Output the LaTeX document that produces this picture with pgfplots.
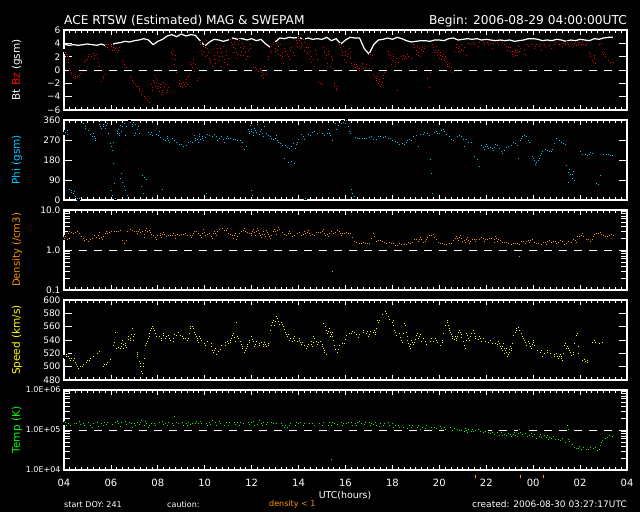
\documentclass[border=0pt]{standalone}
\usepackage{pgfplots}
\pgfplotsset{compat=1.18}
\usepackage{fontspec}
\setmainfont{DejaVu Sans}
\definecolor{bzred}{RGB}{255,0,0}
\definecolor{phicyan}{RGB}{0,200,255}
\definecolor{denorange}{RGB}{255,150,0}
\definecolor{spdyellow}{RGB}{255,255,0}
\definecolor{tmpgreen}{RGB}{0,255,0}
\pgfplotsset{
  panel/.style={
    scale only axis, width=563pt, height=80pt, xmin=0, xmax=24,
    anchor=south west,
    axis line style={white, line width=1.2pt},
    xtick={0,2,...,24}, minor x tick num=7, xticklabels={},
    xtick pos=both, ytick pos=both, yticklabel pos=left, xticklabel pos=lower,
    tick align=inside,
    tick style={white, line width=0.8pt},
    major tick length=8pt, minor tick length=6pt,
    xtick style={/pgfplots/major tick length=5pt, /pgfplots/minor tick length=3pt},
    yticklabel style={font=\fontsize{9}{9}\selectfont, text=white},
    xticklabel style={font=\fontsize{10}{10}\selectfont, text=white, yshift=-6pt},
  },
  dots/.style={only marks, mark=square*, mark size=1.0pt, mark options={draw=none, fill=#1}},
  refline/.style={white, line width=0.9pt, dash pattern=on 8pt off 7pt, mark=none, forget plot},
}
\begin{document}
\begin{tikzpicture}
\fill[black] (0,0) rectangle (640pt,512pt);

% ---------------- Panel 1: Bt / Bz ----------------
\begin{axis}[panel, at={(64pt,402pt)}, ymin=-6, ymax=6, ytick={-6,-4,...,6},
  yticklabels={−6,−4,−2,0,2,4,6}]
\addplot[refline] coordinates {(0,0) (24,0)};
\addplot[white, line width=1.2pt, mark=none] coordinates {
(0.0,3.9)(0.2,3.7)(0.4,3.8)(0.6,3.7)(0.8,3.8)(1.0,3.9)(1.2,3.8)(1.4,3.7)(1.6,3.9)(1.8,3.6)
(2.0,3.8)(2.2,4.0)(2.4,4.1)(2.6,4.3)(2.8,4.2)(3.0,4.4)(3.2,4.5)(3.4,4.7)(3.6,4.5)(3.8,3.8)
(4.0,4.3)(4.2,4.6)(4.4,5.1)(4.6,5.3)(4.8,5.0)(5.0,5.4)(5.2,5.1)(5.4,5.3)(5.6,5.2)(5.8,4.4)
(6.0,3.6)(6.2,4.2)(6.4,4.6)(6.6,4.5)(6.8,4.3)(7.0,4.5)(7.2,4.8)(7.4,4.6)(7.6,4.7)(7.8,4.5)
(8.0,4.7)(8.2,4.4)(8.4,4.6)(8.6,3.9)(8.8,3.4)(9.0,4.2)(9.2,4.8)(9.4,4.7)(9.6,4.9)(9.8,4.8)
(10.0,4.9)(10.2,4.6)(10.4,4.8)(10.6,4.6)(10.8,4.7)(11.0,4.6)(11.2,4.9)(11.4,4.4)(11.6,4.7)(11.8,3.9)
(12.0,4.5)(12.2,4.9)(12.4,4.8)(12.6,4.8)(12.8,3.2)(13.0,2.4)(13.2,3.8)(13.4,4.5)(13.6,4.6)(13.8,4.8)
(14.0,4.6)(14.2,4.9)(14.4,4.7)(14.6,4.4)(14.8,4.2)(15.0,4.3)(15.2,4.4)(15.4,4.4)(15.6,4.3)(15.8,4.5)
(16.0,4.5)(16.2,4.4)(16.4,4.7)(16.6,4.8)(16.8,4.5)(17.0,4.6)(17.2,4.7)(17.4,4.6)(17.6,4.7)(17.8,4.5)
(18.0,4.6)(18.2,4.5)(18.4,4.4)(18.6,4.5)(18.8,4.4)(19.0,4.5)(19.2,4.3)(19.4,4.4)(19.6,4.5)(19.8,4.7)
(20.0,4.7)(20.2,4.6)(20.4,4.4)(20.6,4.5)(20.8,4.4)(21.0,4.6)(21.2,4.5)(21.4,4.3)(21.6,4.5)(21.8,4.4)
(22.0,4.6)(22.2,4.5)(22.4,4.4)(22.6,4.7)(22.8,4.6)(23.0,4.8)(23.2,4.9)(23.4,4.9)};
\addplot[dots=bzred] coordinates {
(0.02,3.0)(0.06,2.8)(0.12,2.0)(0.18,1.2)(0.22,0.3)(0.26,-0.1)(0.30,-0.4)(0.34,-0.7)(0.38,-0.9)(0.42,-1.2)(0.46,-1.0)(0.50,-1.4)(0.55,-1.1)(0.60,-0.7)(0.65,-0.8)(0.70,-0.5)
(0.85,1.0)(0.90,1.4)(0.95,1.8)(1.00,2.1)(1.05,2.0)(1.10,2.3)(1.15,2.1)(1.20,1.9)(1.25,2.5)(1.30,2.2)(1.35,1.6)(1.40,1.8)(1.45,1.2)(1.50,0.6)
(1.58,-1.8)(1.62,-1.5)(1.66,-1.2)(1.70,-0.9)(1.74,-0.6)
(1.82,3.8)(1.86,3.5)(1.90,3.9)(1.95,3.2)(2.00,3.6)(2.05,3.0)(2.10,3.4)(2.15,2.8)(2.20,3.2)(2.25,2.6)(2.35,3.4)
(2.45,1.6)(2.52,1.2)(2.58,0.8)(2.64,0.4)
(2.80,-0.8)(2.86,-1.2)(2.92,-1.6)(2.98,-2.0)(3.04,-2.2)(3.10,-2.6)(3.16,-2.4)(3.22,-3.0)(3.28,-3.4)(3.34,-3.2)(3.40,-3.8)(3.46,-4.2)(3.52,-4.5)(3.58,-4.8)(3.62,-5.0)(3.66,-4.7)
(3.72,-2.2)(3.76,-3.0)(3.80,-1.6)(3.84,-0.8)(3.88,-2.4)(3.92,-1.2)(3.96,-2.8)(4.00,-2.0)(4.05,-3.2)(4.10,-2.6)(4.15,-3.6)(4.20,-3.0)(4.25,-1.8)(4.30,-2.2)(4.35,-3.4)(4.40,-2.9)(4.45,-2.6)
(4.55,2.6)(4.60,1.8)(4.65,3.0)(4.70,0.8)(4.75,2.2)(4.80,-0.4)
(4.90,-1.6)(4.95,-2.4)(5.00,-2.0)(5.05,-2.8)(5.10,-1.8)(5.15,-2.5)(5.20,-1.4)(5.25,-2.2)(5.30,-1.0)(5.35,-0.6)
(5.40,1.2)(5.45,0.4)(5.50,1.6)(5.55,-0.2)(5.60,0.8)(5.68,-1.6)(5.72,-1.2)
(5.80,4.2)(5.85,3.0)(5.90,2.4)(5.95,3.6)(6.00,2.0)(6.05,4.4)(6.10,3.2)(6.15,2.6)(6.20,1.8)(6.25,1.2)(6.30,0.6)
(6.40,2.2)(6.45,1.0)(6.50,3.8)(6.55,2.6)(6.60,1.4)(6.65,3.2)(6.70,0.6)(6.75,2.0)(6.80,3.6)(6.85,1.6)(6.90,2.8)(6.95,0.8)(7.00,1.8)
(7.10,4.6)(7.15,3.8)(7.20,2.6)(7.25,4.2)(7.30,3.2)(7.35,1.8)(7.40,2.4)(7.45,4.4)(7.50,3.4)(7.55,2.8)(7.60,4.0)(7.65,2.2)(7.70,3.6)(7.75,1.6)(7.80,2.8)(7.85,3.0)(7.90,2.0)(7.95,3.2)
(8.05,0.6)(8.10,0.2)(8.15,0.4)(8.20,-0.2)(8.25,0.0)(8.30,-0.4)(8.35,0.3)(8.40,-0.8)(8.45,-0.3)(8.50,-1.2)(8.55,0.5)(8.60,-0.6)
(8.70,1.6)(8.75,2.2)(8.80,3.0)(8.85,3.6)(8.90,4.2)(8.95,3.4)(9.00,2.8)(9.05,4.0)(9.10,3.0)(9.15,2.4)(9.20,3.8)(9.25,1.8)(9.30,2.6)(9.35,1.0)(9.40,3.2)(9.50,2.4)(9.60,1.6)(9.70,3.4)(9.80,2.2)
(9.90,4.4)(9.95,3.6)(10.00,4.8)(10.05,3.2)(10.10,4.2)(10.15,3.8)(10.20,4.6)(10.25,3.0)(10.30,4.0)(10.35,2.6)(10.40,3.4)(10.45,1.8)(10.50,2.8)(10.55,1.2)(10.60,2.2)(10.65,0.6)(10.70,3.0)(10.80,1.6)(10.85,-1.8)
(10.92,-2.0)(10.96,-2.3)(11.00,-2.1)(11.05,3.4)(11.10,2.6)(11.15,1.8)(11.20,1.0)(11.25,2.4)(11.30,3.0)(11.35,0.6)(11.40,2.0)(11.45,1.4)
(11.50,-2.0)(11.55,-2.6)(11.60,-3.0)(11.65,-2.4)
(11.75,3.8)(11.80,3.0)(11.85,2.2)(11.90,3.6)(11.95,1.6)(12.00,2.8)(12.05,1.2)(12.10,2.4)(12.15,3.2)(12.20,1.8)(12.25,1.0)
(12.35,1.2)(12.40,0.4)(12.45,0.8)(12.50,0.2)(12.55,0.6)(12.60,0.0)(12.65,0.4)(12.70,1.0)(12.75,0.2)(12.80,0.5)(12.90,0.8)(13.00,0.2)
(13.05,2.4)(13.10,1.8)(13.15,2.2)
(13.20,-0.6)(13.25,-1.2)(13.30,-1.6)(13.35,-1.0)(13.40,-2.0)(13.45,-1.4)(13.50,-2.4)(13.55,-1.8)(13.60,-0.8)(13.65,-0.4)(13.70,0.2)
(13.80,2.8)(13.85,1.6)(13.90,2.2)(13.95,0.8)(14.00,1.4)(14.05,2.4)(14.10,0.6)(14.15,1.8)(14.20,-3.0)(14.25,1.2)
(14.35,2.2)(14.40,1.6)(14.45,2.4)(14.50,1.8)(14.55,2.0)(14.60,1.6)(14.65,2.4)(14.70,2.2)(14.80,1.8)
(14.90,3.8)(14.95,3.0)(15.00,2.4)(15.05,3.6)(15.10,2.6)(15.15,3.2)(15.20,2.0)(15.25,3.4)(15.30,2.8)(15.40,3.6)
(15.45,0.4)(15.50,-1.2)(15.55,-2.6)(15.60,-0.4)
(15.70,3.8)(15.75,3.2)(15.80,2.6)(15.85,3.6)(15.90,2.2)(15.95,3.0)(16.00,1.8)(16.05,2.6)(16.10,1.6)(16.15,2.4)(16.20,1.4)(16.25,2.0)
(16.30,1.2)(16.35,0.6)(16.40,1.0)(16.45,0.0)(16.50,0.4)(16.55,-0.4)
(16.60,3.0)(16.65,2.6)(16.70,3.4)(16.75,4.0)(16.80,2.8)(16.85,3.6)(16.90,2.6)(16.95,3.8)(17.00,3.0)(17.10,3.6)(17.15,2.2)
(17.25,4.0)(17.35,3.8)(17.45,4.2)(17.55,4.0)(17.65,3.6)(17.75,4.0)(17.85,4.1)(17.95,3.8)(18.05,4.2)(18.15,4.0)(18.25,3.2)(18.35,3.9)(18.45,4.1)(18.55,3.7)(18.65,4.0)(18.75,3.9)(18.85,3.6)
(18.95,3.4)(19.00,2.8)(19.05,3.2)(19.10,2.4)(19.15,2.0)(19.20,2.6)(19.25,3.0)(19.30,2.2)(19.35,3.6)(19.40,2.8)(19.50,3.4)(19.60,3.0)(19.65,2.4)
(19.75,3.8)(19.85,3.4)(19.95,4.0)(20.05,3.2)(20.15,3.8)(20.25,3.6)(20.35,3.0)(20.45,3.8)(20.55,3.4)(20.65,3.9)(20.75,3.2)(20.85,3.8)
(20.95,4.1)(21.05,3.7)(21.15,4.0)(21.25,3.6)(21.35,3.9)(21.45,4.1)(21.55,3.5)(21.65,3.8)(21.75,4.0)(21.85,3.7)(21.95,4.2)(22.05,3.9)(22.15,3.8)(22.25,4.0)
(22.40,2.6)(22.45,2.0)(22.50,1.6)(22.55,1.2)(22.60,2.2)(22.65,1.0)
(22.80,3.8)(22.90,4.0)(22.95,2.6)(23.00,2.2)(23.05,2.4)(23.10,1.8)(23.15,1.6)(23.20,1.4)(23.25,1.0)(23.30,1.2)(23.35,1.0)(23.40,1.1)};
\addplot[dots=bzred] coordinates {
(0.04,2.6)(0.10,2.3)(0.16,1.6)(0.32,-0.6)(0.40,-1.1)(0.48,-1.3)(0.58,-0.9)(0.88,1.2)(0.98,1.6)(1.08,2.4)(1.18,2.0)(1.28,1.8)(1.38,2.3)(1.60,-1.7)(1.68,-1.0)(1.84,3.4)(1.92,3.1)(2.02,3.8)(2.12,2.9)(2.30,3.0)(2.48,1.4)(2.84,-1.0)(2.95,-1.8)(3.07,-2.4)(3.19,-2.8)(3.31,-3.6)(3.43,-4.0)(3.55,-4.6)(3.64,-4.9)(3.74,-2.6)(3.86,-1.8)(3.98,-2.4)(4.08,-2.2)(4.18,-3.3)(4.28,-2.5)(4.38,-3.1)(4.62,2.4)(4.72,1.6)(4.92,-2.0)(5.02,-2.6)(5.12,-2.2)(5.22,-1.8)(5.42,0.8)(5.52,1.0)(5.82,3.8)(5.92,2.8)(6.02,3.4)(6.12,2.2)(6.22,1.5)(6.42,1.6)(6.52,3.2)(6.62,2.0)(6.72,2.6)(6.82,1.2)(6.92,2.2)(7.12,4.2)(7.22,3.4)(7.32,2.6)(7.42,3.8)(7.52,2.2)(7.62,3.2)(7.72,2.6)(7.82,2.0)(7.92,3.8)(8.08,0.4)(8.18,0.1)(8.28,-0.2)(8.38,0.0)(8.48,-0.6)(8.72,2.0)(8.82,2.6)(8.92,3.8)(9.02,3.2)(9.12,3.6)(9.22,2.2)(9.32,2.0)(9.45,2.8)(9.55,2.0)(9.65,3.0)(9.75,2.6)(9.92,4.0)(10.02,4.4)(10.12,3.6)(10.22,4.2)(10.32,3.4)(10.42,2.4)(10.52,2.0)(10.62,1.6)(10.75,2.4)
(11.08,3.0)(11.18,2.2)(11.28,2.8)(11.42,1.8)(11.52,-2.4)(11.62,-2.8)(11.78,3.4)(11.88,2.6)(11.98,2.2)(12.08,2.0)(12.18,2.6)(12.38,0.8)(12.48,0.5)(12.58,0.2)(12.68,0.6)(12.85,0.4)(13.22,-0.9)(13.32,-1.3)(13.42,-1.7)(13.52,-2.1)(13.62,-1.2)(13.82,2.4)(13.92,1.8)(14.02,2.0)(14.12,1.2)(14.38,2.0)(14.48,2.2)(14.58,1.8)(14.68,2.0)(14.92,3.4)(15.02,3.0)(15.12,2.2)(15.22,3.0)(15.35,3.2)(15.72,3.4)(15.82,3.0)(15.92,2.6)(16.02,2.2)(16.12,2.0)(16.22,1.8)(16.32,0.8)(16.42,0.6)(16.62,2.8)(16.72,3.8)(16.82,3.2)(16.92,3.0)(17.05,3.4)(17.30,3.9)(17.50,3.8)(17.70,4.1)(17.90,3.9)(18.10,3.8)(18.30,4.0)(18.50,3.9)(18.70,4.1)(18.90,3.0)(19.02,3.4)(19.12,2.8)(19.22,2.2)(19.32,2.6)(19.45,3.2)(19.80,3.6)(19.90,3.9)(20.10,3.6)(20.30,3.9)(20.50,3.6)(20.70,3.7)(20.90,3.9)(21.10,3.8)(21.30,4.0)(21.50,3.9)(21.70,3.6)(21.90,3.9)(22.10,4.1)(22.20,3.7)(22.42,2.3)(22.52,1.4)(22.62,1.8)(22.98,2.4)(23.08,2.0)(23.18,1.5)(23.28,1.1)};
\end{axis}

% ---------------- Panel 2: Phi ----------------
\begin{axis}[panel, at={(64pt,312pt)}, ymin=0, ymax=360, ytick={0,90,180,270,360},
  yticklabels={0,90,180,270,360}]
\addplot[dots=phicyan] coordinates {
(0.02,300)(0.06,310)(0.10,305)(0.14,315)(0.18,298)
(0.22,45)(0.26,55)(0.30,35)(0.34,50)(0.38,25)(0.42,40)(0.46,20)(0.50,15)(0.55,10)(0.60,5)(0.65,8)
(0.80,350)(0.85,340)(0.90,330)(0.95,322)(1.00,315)(1.05,310)(1.10,302)(1.15,296)(1.20,292)(1.25,300)(1.30,285)(1.35,270)
(1.45,345)(1.50,335)(1.55,330)(1.60,320)(1.65,340)(1.70,318)(1.75,325)(1.85,345)(1.90,300)
(1.98,255)(2.02,240)(2.06,225)(2.10,260)(2.00,45)(2.05,20)(2.10,165)(2.15,75)(2.20,10)
(2.25,300)(2.30,320)(2.35,290)(2.40,335)(2.45,310)(2.55,345)(2.60,290)(2.65,330)
(2.40,100)(2.45,120)(2.50,80)(2.55,60)(2.60,45)(2.70,20)
(2.80,355)(2.85,345)(2.90,330)(2.95,350)(3.00,290)(3.05,340)(3.10,320)(3.20,300)
(3.35,112)(3.40,105)(3.45,100)(3.50,95)(3.30,60)(3.38,30)
(3.55,310)(3.60,300)(3.65,290)(3.70,305)(3.75,295)(3.80,285)(3.90,300)(4.00,290)(4.05,310)
(4.10,285)(4.15,280)(4.20,275)(4.25,270)(4.30,265)(4.35,275)(4.40,285)(4.45,270)(4.50,262)(4.20,50)(4.55,280)
(4.65,275)(4.75,265)(4.85,250)(4.95,255)(5.05,245)(5.15,240)(5.25,255)(5.35,270)(5.45,260)
(5.55,290)(5.60,270)(5.65,280)(5.70,262)(5.75,295)(5.80,275)(5.90,285)(5.95,268)(6.05,290)(6.07,30)
(6.15,300)(6.25,285)(6.35,295)(6.45,300)(6.55,270)(6.65,290)(6.75,285)(6.85,260)
(6.95,285)(7.05,275)(7.15,280)(7.25,270)(7.35,278)(7.45,265)(7.55,272)(7.65,255)(7.75,240)(7.70,230)
(7.85,320)(7.90,300)(7.95,335)(8.00,310)(8.05,290)(8.10,325)(8.20,305)(8.25,340)(8.30,295)(8.40,318)(8.50,285)(8.55,330)(8.00,45)(8.02,20)
(8.65,295)(8.75,285)(8.85,280)(8.95,270)(9.05,290)(9.15,260)
(9.25,250)(9.35,240)(9.45,245)(9.55,230)(9.65,235)(9.75,255)(9.85,235)(9.95,260)(9.40,190)(9.55,170)(9.70,175)(9.80,165)
(10.05,290)(10.15,300)(10.25,275)(10.35,290)(10.45,285)(10.55,300)(10.65,310)(10.75,295)(10.85,305)(10.30,10)
(10.95,305)(11.05,300)(11.15,285)(11.25,318)(11.30,300)(11.40,285)(11.45,270)(11.55,345)(11.65,340)(11.60,320)
(11.75,330)(11.85,355)(11.95,340)(12.05,358)(12.15,310)(12.22,300)(12.25,50)(12.30,30)(12.35,15)
(12.45,285)(12.55,278)(12.65,276)(12.75,280)(12.85,275)(12.95,278)(13.05,285)(13.15,288)
(13.25,270)(13.35,278)(13.45,290)(13.55,285)(13.65,280)(13.75,288)(13.85,272)(13.95,280)
(14.05,265)(14.15,262)(14.25,255)(14.35,250)(14.45,260)(14.55,248)
(14.65,270)(14.75,275)(14.85,265)(14.95,295)(15.05,285)(15.15,300)(15.25,290)(15.35,305)(15.10,240)
(15.60,185)(15.65,120)(15.70,30)(15.50,300)(15.55,290)
(15.75,300)(15.85,310)(15.95,295)(16.05,305)(16.15,318)(16.25,305)(16.35,290)
(16.45,280)(16.55,265)(16.60,270)
(16.70,285)(16.80,290)(16.90,295)(17.00,275)(17.10,280)(17.20,265)(17.30,255)(17.40,260)(17.05,240)
(17.50,195)(17.60,185)(17.70,150)
(17.80,245)(17.90,230)(18.00,250)(18.10,235)(18.20,240)(18.30,225)(18.40,250)(18.50,240)(18.60,230)
(18.70,210)(18.80,230)(18.90,245)(19.00,240)(19.10,255)(19.20,260)(19.30,248)(19.35,190)
(19.45,270)(19.55,285)(19.65,295)(19.75,275)(19.85,260)
(19.95,195)(20.05,180)(20.10,160)(20.15,170)(20.25,190)
(20.35,210)(20.45,225)(20.55,230)(20.65,215)(20.75,220)(20.85,235)
(20.95,280)(21.05,275)(21.15,265)(21.25,260)(21.35,250)
(21.40,155)(21.45,130)(21.50,120)(21.55,140)(21.60,110)(21.65,100)(21.70,130)(21.75,90)(21.50,80)
(21.95,225)(22.05,215)(22.15,200)(22.25,210)(22.35,195)(22.45,215)(22.55,205)
(22.65,80)(22.70,70)(22.75,65)(22.80,75)(22.85,110)
(22.95,210)(23.05,205)(23.15,208)(23.25,200)(23.35,202)};
\addplot[dots=phicyan] coordinates {
(0.04,305)(0.12,298)(0.24,50)(0.32,42)(0.40,30)(0.48,18)(0.58,8)(0.82,345)(0.92,325)(1.02,312)(1.12,298)(1.22,288)(1.32,280)(1.48,340)(1.58,325)(1.68,330)(1.80,335)(2.27,310)(2.37,300)(2.50,330)(2.82,350)(2.92,340)(3.02,300)(3.15,330)(3.42,102)(3.58,305)(3.68,298)(3.78,290)(3.95,295)(4.12,282)(4.22,272)(4.32,270)(4.42,278)(4.60,278)(4.70,270)(4.80,258)(4.90,250)(5.00,250)(5.10,242)(5.20,248)(5.30,262)(5.40,265)(5.58,280)(5.68,272)(5.78,285)(5.88,278)(6.00,282)(6.10,295)(6.20,290)(6.30,288)(6.40,298)(6.50,285)(6.60,280)(6.70,288)(6.80,275)(6.90,280)(7.00,278)(7.10,276)(7.20,275)(7.30,272)(7.40,270)(7.50,268)(7.60,262)(7.88,310)(7.98,320)(8.08,305)(8.15,315)(8.35,310)(8.45,300)(8.60,300)(8.70,290)(8.80,285)(8.90,275)(9.00,280)(9.10,270)(9.20,255)(9.30,245)(9.50,238)(9.60,232)(9.70,240)(9.90,250)(10.00,275)(10.10,295)(10.20,288)(10.40,295)(10.50,290)(10.60,305)(10.80,300)
(11.00,302)(11.10,292)(11.20,300)(11.35,290)(11.70,335)(11.80,345)(11.90,350)(12.00,345)(12.10,330)(12.40,282)(12.50,280)(12.60,277)(12.70,278)(12.80,276)(12.90,277)(13.00,282)(13.10,286)(13.20,275)(13.30,272)(13.40,285)(13.50,288)(13.60,282)(13.70,285)(13.80,276)(13.90,278)(14.00,270)(14.10,264)(14.20,258)(14.30,252)(14.40,255)(14.50,252)(14.60,262)(14.70,272)(14.80,270)(14.90,285)(15.00,290)(15.20,295)(15.30,298)(15.80,305)(15.90,300)(16.00,302)(16.10,312)(16.20,310)(16.30,298)(16.40,285)(16.50,272)(16.75,288)(16.85,292)(16.95,285)(17.15,272)(17.25,262)(17.35,258)(17.85,238)(17.95,240)(18.05,242)(18.15,238)(18.25,232)(18.35,238)(18.45,245)(18.55,235)(18.65,220)(18.75,222)(18.85,238)(18.95,242)(19.05,248)(19.15,258)(19.25,255)(19.50,278)(19.60,290)(19.70,285)(19.80,268)(20.00,188)(20.20,180)(20.30,200)(20.40,218)(20.50,228)(20.60,222)(20.70,218)(20.80,228)(20.90,255)(21.00,278)(21.10,270)(21.20,262)(21.30,255)(21.48,125)(21.58,118)(21.68,115)(22.00,220)(22.10,208)(22.20,205)(22.30,202)(22.40,205)(22.50,210)(22.68,75)(22.78,70)(23.00,208)(23.10,206)(23.20,204)(23.30,200)};
\end{axis}

% ---------------- Panel 3: Density ----------------
\begin{axis}[panel, at={(64pt,222pt)}, ymode=log, ymin=0.1, ymax=10, ytick={0.1,1,10},
  yticklabels={0.1,1.0,10.0}]
\addplot[refline] coordinates {(0,1) (24,1)};
\addplot[dots=denorange] coordinates {
(0.02,2.0)(0.08,2.1)(0.14,1.9)(0.20,2.7)(0.28,2.8)(0.36,2.6)(0.44,2.9)(0.52,2.7)(0.60,3.0)(0.68,2.3)(0.76,2.1)(0.84,1.9)(0.92,1.7)(1.00,2.0)(1.08,1.6)(1.16,1.8)(1.24,2.2)(1.32,2.5)(1.40,2.0)(1.48,2.8)(1.56,2.2)(1.64,1.9)(1.72,2.4)(1.80,2.9)(1.88,2.6)(1.96,3.1)(2.04,2.7)(2.12,3.0)(2.20,2.8)(2.28,3.2)(2.36,3.0)(2.44,2.9)(2.52,1.6)(2.58,1.5)(2.64,1.8)(2.72,3.3)(2.80,3.0)(2.88,3.6)(2.96,2.8)(3.04,3.2)(3.12,2.7)(3.20,3.4)(3.28,2.6)(3.36,3.1)(3.44,2.1)(3.52,3.6)(3.60,3.4)(3.68,2.8)(3.76,2.2)(3.84,2.5)(3.92,1.9)(4.00,2.2)(4.08,2.6)(4.16,2.1)(4.24,2.8)(4.32,2.3)(4.40,2.1)(4.48,2.4)(4.56,2.2)(4.64,2.6)(4.72,2.0)(4.80,2.3)(4.88,2.7)(4.96,2.3)(5.04,2.6)(5.12,2.4)(5.20,2.8)(5.28,2.2)(5.36,2.5)(5.44,2.1)(5.52,2.6)(5.60,3.2)(5.68,2.8)(5.76,2.4)(5.84,2.1)(5.92,3.4)(6.00,2.6)(6.08,2.2)(6.16,2.8)(6.24,2.5)(6.32,2.0)(6.40,2.9)(6.48,2.4)(6.56,3.5)(6.64,3.2)(6.72,3.8)(6.80,3.4)(6.88,2.9)(6.96,3.6)(7.04,2.3)(7.12,2.7)(7.20,2.0)(7.28,2.6)(7.36,1.9)(7.44,2.4)(7.52,3.0)(7.60,2.8)(7.68,3.5)(7.76,2.6)(7.84,3.0)(7.92,2.2)(8.00,2.7)(8.08,3.3)(8.16,2.4)(8.24,3.6)(8.32,2.6)(8.40,2.1)(8.48,2.9)(8.56,2.2)(8.64,3.1)(8.72,2.5)(8.80,2.0)(8.88,2.8)(8.96,3.3)(9.04,2.5)(9.12,3.7)(9.20,2.9)(9.28,3.2)(9.36,2.4)(9.44,2.7)(9.52,2.2)(9.60,3.0)(9.68,2.4)(9.76,2.1)(9.84,2.7)(9.92,2.3)(10.00,3.0)(10.08,2.6)(10.16,2.2)(10.24,2.9)(10.32,2.5)(10.40,3.1)(10.48,2.4)(10.56,2.8)(10.64,2.3)(10.72,2.6)(10.80,3.0)
(10.88,3.0)(10.96,2.6)(11.04,3.3)(11.12,2.4)(11.20,2.8)(11.28,2.2)(11.36,3.2)(11.44,2.7)(11.52,2.5)(11.60,3.0)(11.68,3.4)(11.76,2.6)(11.84,2.5)(11.92,2.8)(12.00,2.7)(12.08,2.9)(12.16,2.6)(12.24,2.8)
(12.32,1.7)(12.40,1.6)(12.48,1.5)(12.56,1.6)(12.64,1.45)(12.72,1.5)(12.80,1.6)(12.88,1.45)(12.96,1.5)(13.04,1.55)(13.12,2.6)(13.20,2.8)
(13.28,1.8)(13.36,1.6)(13.44,1.9)(13.52,1.7)(13.60,1.6)(13.68,1.5)(13.76,1.55)(13.84,1.8)(13.92,1.45)(14.00,1.6)(14.08,1.4)(14.16,1.3)(14.24,1.4)(14.32,1.5)(14.40,1.3)(14.48,1.45)(14.56,1.35)(14.64,1.5)(14.72,1.6)(14.80,1.4)
(14.88,1.7)(14.96,2.0)(15.04,1.8)(15.12,1.6)(15.20,2.1)(15.28,1.7)(15.36,1.5)(15.44,1.9)(15.52,2.4)(15.60,2.2)(15.68,2.6)(15.76,2.3)(15.84,2.0)(15.92,1.7)(16.00,1.55)(16.08,1.5)(16.16,1.4)(16.24,1.45)(16.32,1.35)(16.40,1.5)(16.48,1.4)(16.56,1.6)(16.64,1.9)(16.72,2.2)(16.80,1.8)(16.88,2.3)(16.96,1.7)(17.04,2.0)(17.12,1.6)(17.20,2.1)(17.28,1.5)(17.36,1.8)(17.44,2.0)(17.52,1.7)(17.60,2.1)(17.68,1.8)(17.76,1.9)(17.84,2.2)(17.92,1.7)(18.00,2.0)(18.08,1.8)(18.16,2.1)(18.24,1.9)(18.32,1.6)(18.40,2.2)(18.48,1.7)(18.56,2.0)(18.64,1.6)(18.72,1.5)(18.80,1.7)(18.88,1.4)(18.96,1.6)(19.04,1.3)(19.12,1.5)(19.20,1.4)(19.28,1.6)(19.36,1.3)(19.44,1.5)(19.52,1.8)(19.60,1.6)(19.68,1.4)(19.76,1.9)(19.84,1.6)(19.92,2.0)(20.00,1.7)(20.08,1.5)(20.16,1.4)(20.24,1.6)(20.32,1.3)(20.40,1.5)(20.48,1.7)(20.56,1.4)(20.64,1.9)(20.72,1.6)(20.80,1.5)(20.88,1.8)(20.96,1.6)(21.04,1.4)(21.12,1.7)(21.20,1.9)(21.28,1.5)(21.36,1.3)(21.44,1.6)(21.52,1.8)(21.60,1.5)(21.68,1.7)(21.76,2.0)(21.84,1.6)(21.92,2.4)(22.00,2.1)(22.08,2.6)(22.16,1.8)(22.24,1.7)(22.32,2.0)(22.40,1.8)(22.48,1.6)(22.56,2.2)(22.64,2.8)(22.72,2.6)(22.80,2.7)(22.88,2.9)(22.96,2.2)(23.04,2.4)(23.12,2.1)(23.20,2.3)(23.28,2.5)(23.36,2.4)
(11.42,0.29)(19.42,0.72)};
\addplot[dots=denorange] coordinates {
(0.05,2.2)(0.16,2.6)(0.24,2.9)(0.32,2.75)(0.40,2.7)(0.48,2.85)(0.56,2.9)(0.64,2.6)(0.72,2.2)(0.80,2.0)(0.88,1.8)(0.96,1.9)(1.04,1.7)(1.12,1.9)(1.20,2.0)(1.28,2.3)(1.36,2.1)(1.44,2.4)(1.52,2.0)(1.60,2.1)(1.68,2.2)(1.76,2.6)(1.84,2.7)(1.92,2.8)(2.00,2.9)(2.08,2.8)(2.16,2.9)(2.24,3.0)(2.32,2.9)(2.40,3.1)(2.48,1.8)(2.68,3.0)(2.76,3.2)(2.84,3.3)(2.92,3.1)(3.00,3.0)(3.08,2.9)(3.16,3.0)(3.24,2.8)(3.32,2.9)(3.40,2.5)(3.48,3.2)(3.56,3.0)(3.64,3.1)(3.72,2.5)(3.80,2.3)(3.88,2.1)(3.96,2.3)(4.04,2.4)(4.12,2.3)(4.20,2.5)(4.28,2.5)(4.36,2.2)(4.44,2.3)(4.52,2.3)(4.60,2.4)(4.68,2.2)(4.76,2.4)(4.84,2.5)(4.92,2.4)(5.00,2.5)(5.08,2.5)(5.16,2.6)(5.24,2.4)(5.32,2.3)(5.40,2.3)(5.48,2.4)(5.56,2.9)(5.64,3.0)(5.72,2.6)(5.80,2.3)(5.88,2.6)(5.96,2.8)(6.04,2.4)(6.12,2.5)(6.20,2.6)(6.28,2.2)(6.36,2.6)(6.44,2.6)(6.52,3.0)(6.60,3.3)(6.68,3.5)(6.76,3.6)(6.84,3.1)(6.92,3.2)(7.00,2.6)(7.08,2.5)(7.16,2.3)(7.24,2.3)(7.32,2.2)(7.40,2.2)(7.48,2.7)(7.56,2.9)(7.64,3.1)(7.72,3.0)(7.80,2.8)(7.88,2.6)(7.96,2.4)(8.04,3.0)(8.12,2.8)(8.20,3.0)(8.28,3.1)(8.36,2.3)(8.44,2.5)(8.52,2.5)(8.60,2.7)(8.68,2.8)(8.76,2.2)(8.84,2.4)(8.92,3.0)(9.00,2.9)(9.08,3.1)(9.16,3.3)(9.24,3.0)(9.32,2.8)(9.40,2.5)(9.48,2.4)(9.56,2.6)(9.64,2.7)(9.72,2.2)(9.80,2.4)(9.88,2.5)(9.96,2.7)(10.04,2.8)(10.12,2.4)(10.20,2.5)(10.28,2.7)(10.36,2.8)(10.44,2.7)(10.52,2.6)(10.60,2.5)(10.68,2.4)(10.76,2.8)(10.84,2.8)
(10.92,2.8)(11.00,3.0)(11.08,2.7)(11.16,2.6)(11.24,2.5)(11.32,2.7)(11.40,2.9)(11.48,2.6)(11.56,2.8)(11.64,3.2)(11.72,2.9)(11.80,2.4)(11.88,2.7)(11.96,2.6)(12.04,2.8)(12.12,2.7)(12.20,2.7)(12.28,2.1)(12.36,1.65)(12.44,1.55)(12.52,1.55)(12.60,1.5)(12.68,1.48)(12.76,1.55)(12.84,1.5)(12.92,1.48)(13.00,1.52)(13.08,2.0)(13.16,2.7)(13.24,2.2)(13.32,1.7)(13.40,1.75)(13.48,1.8)(13.56,1.65)(13.64,1.55)(13.72,1.52)(13.80,1.7)(13.88,1.6)(13.96,1.5)(14.04,1.5)(14.12,1.35)(14.20,1.35)(14.28,1.45)(14.36,1.4)(14.44,1.38)(14.52,1.4)(14.60,1.42)(14.68,1.55)(14.76,1.5)(14.84,1.55)(14.92,1.85)(15.00,1.9)(15.08,1.7)(15.16,1.85)(15.24,1.9)(15.32,1.6)(15.40,1.7)(15.48,2.1)(15.56,2.3)(15.64,2.4)(15.72,2.45)(15.80,2.15)(15.88,1.85)(15.96,1.6)(16.04,1.52)(16.12,1.45)(16.20,1.42)(16.28,1.4)(16.36,1.42)(16.44,1.45)(16.52,1.5)(16.60,1.75)(16.68,2.0)(16.76,2.0)(16.84,2.05)(16.92,2.0)(17.00,1.85)(17.08,1.8)(17.16,1.85)(17.24,1.8)(17.32,1.65)(17.40,1.9)(17.48,1.85)(17.56,1.9)(17.64,1.95)(17.72,1.85)(17.80,2.05)(17.88,1.95)(17.96,1.85)(18.04,1.9)(18.12,1.95)(18.20,2.0)(18.28,1.75)(18.36,1.9)(18.44,1.95)(18.52,1.85)(18.60,1.8)(18.68,1.55)(18.76,1.6)(18.84,1.55)(18.92,1.5)(19.00,1.45)(19.08,1.4)(19.16,1.45)(19.24,1.5)(19.32,1.45)(19.40,1.4)(19.48,1.65)(19.56,1.7)(19.64,1.5)(19.72,1.65)(19.80,1.75)(19.88,1.8)(19.96,1.85)(20.04,1.6)(20.12,1.45)(20.20,1.5)(20.28,1.45)(20.36,1.4)(20.44,1.6)(20.52,1.55)(20.60,1.65)(20.68,1.75)(20.76,1.55)(20.84,1.65)(20.92,1.7)(21.00,1.5)(21.08,1.55)(21.16,1.8)(21.24,1.7)(21.32,1.4)(21.40,1.45)(21.48,1.7)(21.56,1.65)(21.64,1.6)(21.72,1.85)(21.80,1.8)(21.88,2.2)(21.96,2.25)(22.04,2.35)(22.12,2.2)(22.20,1.75)(22.28,1.85)(22.36,1.9)(22.44,1.7)(22.52,1.9)(22.60,2.5)(22.68,2.7)(22.76,2.65)(22.84,2.8)(22.92,2.5)(23.00,2.3)(23.08,2.25)(23.16,2.2)(23.24,2.4)(23.32,2.45)(23.40,2.4)};
\end{axis}

% ---------------- Panel 4: Speed ----------------
\begin{axis}[panel, at={(64pt,132pt)}, ymin=480, ymax=600, ytick={480,500,...,600},
  yticklabels={480,500,520,540,560,580,600}]
\addplot[dots=spdyellow] coordinates {
(0.02,515)(0.08,518)(0.14,512)(0.20,516)(0.26,510)(0.32,514)(0.38,508)(0.44,512)(0.50,505)(0.56,500)(0.62,497)(0.68,502)(0.74,499)(0.80,503)(0.86,506)(0.92,504)(0.98,510)(1.04,508)(1.10,512)(1.16,515)(1.22,513)(1.28,518)(1.34,520)(1.40,517)(1.46,522)(1.52,525)(1.58,500)(1.64,497)(1.70,503)(1.76,505)(1.82,502)(1.88,508)(1.94,512)(2.00,510)
(2.06,530)(2.12,535)(2.18,538)(2.24,528)(2.30,532)(2.36,526)(2.42,530)(2.48,540)(2.54,527)(2.60,535)(2.66,529)(2.20,552)(2.72,545)(2.78,538)(2.84,542)(2.90,557)(2.96,540)(3.00,548)
(3.10,522)(3.14,515)(3.18,510)(3.24,505)(3.28,495)(3.32,490)(3.36,500)(3.40,512)
(3.46,530)(3.50,535)(3.56,540)(3.62,545)(3.68,555)(3.74,562)(3.80,558)(3.86,552)
(3.92,548)(3.98,545)(4.04,543)(4.10,547)(4.16,540)(4.22,550)(4.28,545)(4.34,542)(4.40,548)(4.46,546)(4.52,540)(4.58,544)(4.64,538)(4.70,548)(4.76,545)(4.82,550)(4.88,552)(4.94,546)(5.00,548)(5.06,542)(5.12,544)(5.18,540)(5.24,538)(5.30,543)
(5.36,558)(5.42,562)(5.48,560)(5.54,556)(5.60,548)(5.66,542)(5.72,537)(5.78,545)(5.84,540)(5.90,535)(5.96,538)(6.02,532)(6.08,540)(6.14,536)(6.20,530)(6.26,535)(6.32,525)(6.38,520)(6.44,528)(6.50,518)(6.56,524)(6.62,522)(6.68,530)(6.74,535)(6.80,538)(6.86,532)(6.92,540)(6.98,536)(7.04,534)(7.10,540)(7.16,545)(7.22,550)(7.28,538)(7.34,567)(7.40,546)(7.46,540)(7.52,536)(7.58,530)(7.64,526)(7.70,522)(7.76,528)(7.82,534)(7.88,540)(7.94,535)(8.00,545)(8.06,538)(8.12,530)(8.18,536)(8.24,540)(8.30,532)(8.36,538)(8.42,535)(8.48,531)(8.54,536)(8.60,533)(8.66,530)(8.72,535)
(8.80,560)(8.86,565)(8.92,570)(8.98,562)(9.04,575)(9.10,572)(9.16,565)(9.22,563)(9.28,566)(9.34,560)
(9.44,552)(9.50,545)(9.56,548)(9.62,540)(9.68,544)(9.74,538)(9.80,546)(9.86,535)(9.92,540)(9.98,537)(10.04,542)(10.10,532)(10.16,536)(10.22,530)(10.28,534)(10.34,528)(10.40,535)(10.46,532)(10.52,538)(10.58,530)(10.64,545)(10.70,540)(10.76,536)(10.82,532)
(10.90,540)(10.96,536)(11.02,530)(11.08,525)(11.14,520)(11.20,518)(11.05,565)(11.12,560)(11.18,555)(11.24,550)(11.30,557)(11.36,545)(11.42,552)(11.48,540)(11.54,525)(11.60,528)(11.66,522)(11.72,530)(11.78,535)(11.84,538)(11.90,533)(11.96,537)
(12.02,545)(12.08,550)(12.14,553)(12.20,548)(12.26,552)(12.32,555)(12.38,548)(12.44,546)(12.50,550)(12.56,544)(12.62,552)(12.68,548)(12.74,554)(12.80,550)(12.86,548)(12.92,553)(12.98,546)(13.04,552)(13.10,555)(13.16,550)(13.22,555)(13.28,548)
(13.36,570)(13.42,565)(13.48,575)(13.54,580)(13.60,577)(13.66,585)(13.72,582)(13.78,578)(13.84,575)(13.90,568)(13.96,565)(14.02,570)
(14.08,555)(14.14,550)(14.20,545)(14.26,552)(14.32,548)(14.38,540)(14.44,535)(14.50,565)(14.56,560)(14.62,545)(14.68,535)(14.74,528)(14.80,540)(14.86,532)(14.92,537)
(15.00,545)(15.06,550)(15.12,542)(15.18,548)(15.24,538)(15.30,544)(15.36,540)(15.42,536)(15.48,532)(15.54,538)(15.60,535)(15.66,542)(15.72,536)(15.78,540)(15.84,544)(15.90,537)(15.96,535)(16.02,530)(16.08,534)(16.14,540)
(16.20,560)(16.26,565)(16.32,570)(16.38,562)(16.44,555)(16.50,548)(16.56,542)(16.62,538)(16.68,545)(16.74,540)(16.80,552)(16.86,556)(16.92,548)(16.98,540)(17.04,536)(17.10,528)(17.16,550)(17.22,545)(17.28,540)(17.34,552)(17.40,548)(17.46,555)(17.52,545)(17.58,542)(17.64,538)(17.70,545)(17.76,540)(17.82,536)(17.88,542)(17.94,537)(18.00,540)(18.06,535)(18.12,538)(18.18,540)(18.24,534)(18.30,536)(18.36,538)(18.42,532)(18.48,536)(18.54,540)
(18.60,530)(18.66,525)(18.72,535)(18.78,520)(18.84,528)(18.90,515)(18.96,522)(19.02,530)(19.08,525)
(19.14,545)(19.20,550)(19.26,555)(19.32,560)(19.38,558)(19.44,552)(19.50,548)(19.56,545)(19.62,540)(19.68,535)(19.74,530)(19.80,538)(19.86,533)(19.92,528)(19.98,540)(20.04,532)
(20.10,525)(20.16,528)(20.22,522)(20.28,520)(20.34,525)(20.40,515)(20.46,522)(20.52,518)(20.58,525)(20.64,520)(20.70,523)(20.76,518)(20.82,520)(20.88,516)(20.94,522)(21.00,518)(21.06,513)(21.12,520)(21.18,516)(21.24,510)
(21.30,530)(21.36,535)(21.42,528)(21.48,532)(21.54,525)(21.60,520)(21.66,515)(21.72,522)
(21.80,545)(21.86,550)(21.90,530)
(21.96,510)(22.02,512)(22.08,508)(22.14,512)(22.20,510)(22.26,506)(22.32,509)
(22.50,538)(22.56,535)(22.62,540)(22.68,535)(22.74,532)(22.80,536)(22.86,534)(22.92,537)(22.98,535)};
\addplot[dots=spdyellow] coordinates {
(0.05,514)(0.11,516)(0.17,511)(0.23,513)(0.29,512)(0.35,510)(0.41,510)(0.47,507)(0.53,503)(0.59,498)(0.65,500)(0.71,500)(0.77,501)(0.83,504)(0.89,505)(0.95,507)(1.01,509)(1.07,510)(1.13,513)(1.19,514)(1.25,516)(1.31,519)(1.37,518)(1.43,520)(1.49,523)(1.61,499)(1.67,500)(1.73,504)(1.79,503)(1.85,506)(1.91,510)(1.97,511)(2.09,532)(2.15,536)(2.21,531)(2.27,530)(2.33,529)(2.39,528)(2.45,535)(2.51,533)(2.57,531)(2.63,532)(2.69,540)(2.75,541)(2.81,540)(2.87,548)(2.93,545)(3.12,518)(3.21,508)(3.26,500)(3.30,493)(3.38,505)(3.48,532)(3.53,538)(3.59,542)(3.65,550)(3.71,558)(3.77,560)(3.83,555)(3.89,550)(3.95,546)(4.01,544)(4.07,545)(4.13,543)(4.19,545)(4.25,547)(4.31,543)(4.37,545)(4.43,547)(4.49,543)(4.55,542)(4.61,541)(4.67,543)(4.73,546)(4.79,547)(4.85,551)(4.91,549)(4.97,547)(5.03,545)(5.09,543)(5.15,542)(5.21,539)(5.27,540)(5.33,550)(5.39,560)(5.45,561)(5.51,558)(5.57,552)(5.63,545)(5.69,540)(5.75,541)(5.81,542)(5.87,537)(5.93,536)(5.99,535)(6.05,536)(6.11,538)(6.17,533)(6.23,532)(6.29,530)(6.35,522)(6.41,524)(6.47,523)(6.53,521)(6.59,523)(6.65,526)(6.71,532)(6.77,536)(6.83,535)(6.89,536)(6.95,538)(7.01,535)(7.07,537)(7.13,542)(7.19,547)(7.25,544)(7.37,543)(7.43,543)(7.49,538)(7.55,533)(7.61,528)(7.67,524)(7.73,525)(7.79,531)(7.85,537)(7.91,537)(7.97,540)(8.03,541)(8.09,534)(8.15,533)(8.21,538)(8.27,536)(8.33,535)(8.39,536)(8.45,533)(8.51,533)(8.57,534)(8.63,531)(8.69,532)(8.77,555)(8.83,562)(8.89,567)(8.95,566)(9.01,568)(9.07,573)(9.13,568)(9.19,564)(9.25,564)(9.31,563)(9.38,556)(9.47,548)(9.53,546)(9.59,544)(9.65,542)(9.71,541)(9.77,542)(9.83,540)(9.89,537)(9.95,538)(10.01,540)(10.07,537)(10.13,534)(10.19,533)(10.25,532)(10.31,531)(10.37,531)(10.43,533)(10.49,535)(10.55,534)(10.61,537)(10.67,542)(10.73,538)(10.79,534)(10.85,536)
(10.93,538)(10.99,533)(11.05,528)(11.11,522)(11.17,519)(11.27,553)(11.33,551)(11.39,548)(11.45,546)(11.51,532)(11.57,526)(11.63,525)(11.69,526)(11.75,532)(11.81,536)(11.87,535)(11.93,535)(11.99,541)(12.05,547)(12.11,551)(12.17,550)(12.23,550)(12.29,553)(12.35,551)(12.41,547)(12.47,548)(12.53,547)(12.59,548)(12.65,550)(12.71,551)(12.77,552)(12.83,549)(12.89,550)(12.95,549)(13.01,549)(13.07,553)(13.13,552)(13.19,552)(13.25,551)(13.31,558)(13.39,567)(13.45,570)(13.51,577)(13.57,578)(13.63,581)(13.69,583)(13.75,580)(13.81,576)(13.87,571)(13.93,566)(13.99,567)(14.05,562)(14.11,552)(14.17,547)(14.23,548)(14.29,550)(14.35,544)(14.41,537)(14.47,550)(14.53,562)(14.59,552)(14.65,540)(14.71,531)(14.77,534)(14.83,536)(14.89,534)(14.95,541)(15.03,547)(15.09,546)(15.15,545)(15.21,543)(15.27,541)(15.33,542)(15.39,538)(15.45,534)(15.51,535)(15.57,536)(15.63,538)(15.69,539)(15.75,538)(15.81,542)(15.87,540)(15.93,536)(15.99,532)(16.05,532)(16.11,537)(16.17,550)(16.23,562)(16.29,567)(16.35,566)(16.41,558)(16.47,551)(16.53,545)(16.59,540)(16.65,541)(16.71,542)(16.77,546)(16.83,554)(16.89,552)(16.95,544)(17.01,538)(17.07,532)(17.13,539)(17.19,547)(17.25,542)(17.31,546)(17.37,550)(17.43,551)(17.49,550)(17.55,543)(17.61,540)(17.67,541)(17.73,542)(17.79,538)(17.85,539)(17.91,539)(17.97,538)(18.03,537)(18.09,536)(18.15,539)(18.21,537)(18.27,535)(18.33,537)(18.39,535)(18.45,534)(18.51,538)(18.57,535)(18.63,527)(18.69,530)(18.75,527)(18.81,524)(18.87,521)(18.93,518)(18.99,526)(19.05,527)(19.11,535)(19.17,547)(19.23,552)(19.29,557)(19.35,559)(19.41,555)(19.47,550)(19.53,546)(19.59,542)(19.65,537)(19.71,532)(19.77,534)(19.83,535)(19.89,530)(19.95,534)(20.01,536)(20.07,528)(20.13,526)(20.19,525)(20.25,521)(20.31,522)(20.37,520)(20.43,518)(20.49,520)(20.55,521)(20.61,522)(20.67,521)(20.73,520)(20.79,519)(20.85,518)(20.91,519)(20.97,520)(21.03,515)(21.09,516)(21.15,518)(21.21,513)(21.27,520)(21.33,532)(21.39,531)(21.45,530)(21.51,528)(21.57,522)(21.63,517)(21.69,518)(21.75,535)(21.83,547)(21.93,520)(21.99,511)(22.05,510)(22.11,510)(22.17,511)(22.23,508)(22.29,507)(22.53,536)(22.59,537)(22.65,537)(22.71,533)(22.77,534)(22.83,535)(22.89,535)(22.95,536)};
\end{axis}

% ---------------- Panel 5: Temp ----------------
\begin{axis}[panel, at={(64pt,42pt)}, ymode=log, ymin=1e4, ymax=1e6, ytick={1e4,1e5,1e6},
  yticklabels={1.0E+04,1.0E+05,1.0E+06},
  yticklabel style={font=\fontsize{8}{8}\selectfont},
  xticklabels={04,06,08,10,12,14,16,18,20,22,00,02,04}, clip=false]
\addplot[refline] coordinates {(0,1e5) (24,1e5)};
\addplot[dots=tmpgreen] coordinates {
(0.0,1.45e5)(0.1,1.35e5)(0.2,1.5e5)(0.3,1.4e5)(0.4,1.6e5)(0.5,1.45e5)(0.6,1.55e5)(0.7,1.4e5)(0.8,1.5e5)(0.9,1.35e5)(1.0,1.45e5)(1.1,1.3e5)(1.2,1.2e5)(1.3,1.4e5)(1.4,1.55e5)(1.5,1.3e5)(1.6,1.45e5)(1.7,1.6e5)(1.8,1.4e5)(1.9,1.7e5)(2.0,1.5e5)(2.1,1.35e5)(2.2,1.6e5)(2.3,1.45e5)(2.4,1.25e5)(2.5,1.5e5)(2.6,1.7e5)(2.7,1.35e5)(2.8,1.55e5)(2.9,1.15e5)(3.0,1.45e5)(3.1,1.6e5)(3.2,1.4e5)(3.3,1.75e5)(3.4,1.3e5)(3.5,1.5e5)(3.6,1.2e5)(3.7,1.45e5)(3.8,1.55e5)(3.9,1.35e5)(4.0,1.65e5)(4.1,1.45e5)(4.2,1.7e5)(4.3,1.5e5)(4.4,1.35e5)(4.5,1.55e5)(4.6,1.45e5)(4.7,2.2e5)(4.8,1.6e5)(4.9,1.4e5)(5.0,1.5e5)(5.1,1.35e5)(5.2,1.45e5)(5.3,1.55e5)(5.4,1.4e5)(5.5,1.6e5)(5.6,1.5e5)(5.7,1.45e5)(5.8,1.65e5)(5.9,1.4e5)(6.0,1.55e5)(6.1,1.35e5)(6.2,1.6e5)(6.3,1.8e5)(6.4,1.5e5)(6.5,1.3e5)(6.6,1.7e5)(6.7,1.45e5)(6.8,1.4e5)(6.9,1.6e5)(7.0,1.35e5)(7.1,1.5e5)(7.2,1.45e5)(7.3,1.4e5)(7.4,1.55e5)(7.5,1.6e5)(7.6,1.4e5)(7.7,1.5e5)(7.8,1.65e5)(7.9,1.4e5)(8.0,1.55e5)(8.1,1.35e5)(8.2,1.45e5)(8.3,1.75e5)(8.4,1.5e5)(8.5,1.6e5)(8.6,1.4e5)(8.7,1.7e5)(8.8,1.5e5)(8.9,1.45e5)(9.0,1.6e5)(9.1,1.4e5)(9.2,1.55e5)(9.3,1.35e5)(9.4,1.2e5)(9.5,1.15e5)(9.6,1.3e5)(9.7,1.5e5)(9.8,1.4e5)(9.9,1.6e5)(10.0,1.45e5)(10.1,1.5e5)(10.2,1.35e5)(10.3,1.55e5)(10.4,1.4e5)(10.5,1.6e5)(10.6,1.5e5)(10.7,1.4e5)(10.8,1.55e5)
(0.05,1.6e5)(0.25,1.3e5)(0.45,1.5e5)(0.65,1.7e5)(0.85,1.3e5)(1.05,1.55e5)(1.25,1.45e5)(1.45,1.25e5)(1.65,1.35e5)(1.85,1.55e5)(2.05,1.4e5)(2.25,1.7e5)(2.45,1.6e5)(2.65,1.4e5)(2.85,1.45e5)(3.05,1.3e5)(3.25,1.55e5)(3.45,1.65e5)(3.65,1.35e5)(3.85,1.45e5)(4.05,1.55e5)(4.25,1.4e5)(4.45,1.6e5)(4.65,1.3e5)(4.85,1.5e5)(5.05,1.6e5)(5.25,1.35e5)(5.45,1.5e5)(5.65,1.7e5)(5.85,1.5e5)(6.05,1.45e5)(6.25,1.4e5)(6.45,1.6e5)(6.65,1.5e5)(6.85,1.3e5)(7.05,1.55e5)(7.25,1.6e5)(7.45,1.35e5)(7.65,1.45e5)(7.85,1.55e5)(8.05,1.65e5)(8.25,1.4e5)(8.45,1.35e5)(8.65,1.55e5)(8.85,1.6e5)(9.05,1.5e5)(9.25,1.45e5)(9.45,1.3e5)(9.65,1.45e5)(9.85,1.35e5)(10.05,1.6e5)(10.25,1.45e5)(10.45,1.5e5)(10.65,1.35e5)(10.85,1.45e5)
(10.9,1.45e5)(11.0,1.35e5)(11.1,1.5e5)(11.2,1.4e5)(11.3,1.6e5)(11.4,1.3e5)(11.5,1.45e5)(11.6,1.5e5)(11.7,1.35e5)(11.8,1.55e5)(11.9,1.45e5)(12.0,1.4e5)(12.1,1.6e5)(12.2,1.5e5)(12.3,1.35e5)(12.4,1.45e5)(12.5,1.55e5)(12.6,1.65e5)(12.7,1.5e5)(12.8,1.4e5)(12.9,1.45e5)(13.0,1.55e5)(13.1,1.5e5)(13.2,1.4e5)(13.3,1.3e5)(13.4,1.35e5)(13.5,1.5e5)(13.6,1.3e5)(13.7,1.4e5)(13.8,1.55e5)(13.9,1.35e5)(14.0,1.45e5)(14.1,1.3e5)(14.2,1.4e5)(14.3,1.15e5)(14.4,1.25e5)(14.5,1.1e5)(14.6,1.2e5)(14.7,1.3e5)(14.8,1.15e5)(14.9,1.25e5)(15.0,1.1e5)(15.1,1.3e5)(15.2,1.05e5)(15.3,1.2e5)(15.4,1.1e5)(15.5,1.25e5)(15.6,1.15e5)(15.7,1.1e5)(15.8,1.2e5)(15.9,1.05e5)(16.0,1.15e5)(16.1,1.1e5)(16.2,1.2e5)(16.3,1.0e5)(16.4,1.1e5)(16.5,1.15e5)
(11.05,1.55e5)(11.25,1.3e5)(11.45,1.6e5)(11.65,1.4e5)(11.85,1.35e5)(12.05,1.5e5)(12.25,1.6e5)(12.45,1.35e5)(12.65,1.45e5)(12.85,1.6e5)(13.05,1.35e5)(13.25,1.55e5)(13.45,1.25e5)(13.65,1.45e5)(13.85,1.3e5)(14.05,1.2e5)(14.25,1.3e5)(14.45,1.2e5)(14.65,1.1e5)(14.85,1.3e5)(15.05,1.2e5)(15.25,1.15e5)(15.45,1.3e5)(15.65,1.2e5)(15.85,1.1e5)(16.05,1.25e5)(16.25,1.05e5)(16.45,1.2e5)
(16.6,1.05e5)(16.7,0.98e5)(16.8,1.02e5)(16.9,0.95e5)(17.0,1.0e5)(17.1,1.08e5)(17.2,0.9e5)(17.3,0.97e5)(17.4,1.05e5)(17.5,0.92e5)(17.6,0.98e5)(17.7,0.88e5)(17.8,0.95e5)(17.9,0.85e5)(18.0,0.92e5)
(16.65,1.1e5)(16.85,1.0e5)(17.05,0.93e5)(17.25,1.02e5)(17.45,0.95e5)(17.65,1.03e5)(17.85,0.9e5)(18.05,0.85e5)
(18.1,0.88e5)(18.2,0.8e5)(18.3,0.85e5)(18.4,0.78e5)(18.5,0.9e5)(18.6,0.82e5)(18.7,0.75e5)(18.8,0.85e5)(18.9,0.7e5)(19.0,0.8e5)(19.1,0.77e5)(19.2,0.86e5)(19.3,0.72e5)
(19.4,1.05e5)(19.5,0.95e5)(19.6,0.88e5)(19.7,0.78e5)(19.8,0.72e5)(19.9,0.82e5)(20.0,0.65e5)(20.1,0.75e5)(20.2,0.68e5)(20.3,0.8e5)(20.4,0.7e5)(20.5,0.62e5)(20.6,0.75e5)
(20.7,0.68e5)(20.8,0.6e5)(20.9,0.65e5)(21.0,0.55e5)(21.1,0.62e5)(21.2,0.52e5)(21.3,0.58e5)(21.4,0.5e5)(21.5,0.6e5)(21.6,0.47e5)
(21.45,1.3e5)(21.5,1.05e5)
(21.7,0.4e5)(21.8,0.37e5)(21.9,0.35e5)(22.0,0.38e5)(22.1,0.33e5)(22.2,0.36e5)(22.3,0.32e5)(22.4,0.35e5)(22.5,0.38e5)(22.6,0.34e5)(22.7,0.36e5)(22.8,0.33e5)
(22.9,0.5e5)(23.0,0.6e5)(23.1,0.65e5)(23.2,0.72e5)(23.3,0.7e5)(23.4,0.75e5)
(11.4,1.9e4)};
\addplot[dots=tmpgreen] coordinates {
(16.55,1.0e5)(16.75,1.04e5)(16.95,0.97e5)(17.15,1.0e5)(17.35,0.93e5)(17.55,1.0e5)(17.75,0.93e5)(17.95,0.95e5)(18.15,0.84e5)(18.25,0.9e5)(18.35,0.8e5)(18.45,0.86e5)(18.55,0.76e5)(18.65,0.88e5)(18.75,0.8e5)(18.85,0.74e5)(18.95,0.83e5)(19.05,0.72e5)(19.15,0.8e5)(19.25,0.75e5)(19.35,0.82e5)(19.45,0.9e5)(19.55,0.8e5)(19.65,0.84e5)(19.75,0.7e5)(19.85,0.76e5)(19.95,0.7e5)(20.05,0.8e5)(20.15,0.64e5)(20.25,0.72e5)(20.35,0.66e5)(20.45,0.76e5)(20.55,0.68e5)(20.65,0.6e5)(20.75,0.64e5)(20.85,0.7e5)(20.95,0.58e5)(21.05,0.6e5)(21.15,0.56e5)(21.25,0.62e5)(21.35,0.5e5)(21.55,0.52e5)(21.65,0.44e5)(21.75,0.38e5)(21.85,0.36e5)(21.95,0.4e5)(22.05,0.34e5)(22.15,0.37e5)(22.25,0.34e5)(22.35,0.33e5)(22.45,0.37e5)(22.55,0.35e5)(22.65,0.38e5)(22.75,0.32e5)(22.85,0.42e5)(22.95,0.55e5)(23.05,0.62e5)(23.15,0.68e5)(23.25,0.74e5)(23.35,0.72e5)};
\addplot[only marks, mark=|, mark size=1.6pt, mark options={denorange, line width=0.9pt}] coordinates {(17.56,7000)(19.44,7000)(20.43,7000)};
\end{axis}

% ---------------- Texts ----------------
\node[anchor=base west, text=white, font=\fontsize{12.2}{12}\selectfont, inner sep=0] at (64pt,487pt) {ACE RTSW (Estimated) MAG \& SWEPAM};
\node[anchor=base east, text=white, font=\fontsize{12.2}{12}\selectfont, inner sep=0] at (627pt,487pt) {Begin: 2006-08-29 04:00:00UTC};

\node[rotate=90, font=\fontsize{10.5}{10}\selectfont, text=white] at (17pt,442pt) {Bt \textcolor{bzred}{Bz} (gsm)};
\node[rotate=90, font=\fontsize{10.5}{10}\selectfont, text=phicyan] at (17pt,352pt) {Phi (gsm)};
\node[rotate=90, font=\fontsize{10}{10}\selectfont, text=denorange] at (17pt,262pt) {Density (/cm3)};
\node[rotate=90, font=\fontsize{10.5}{10}\selectfont, text=spdyellow] at (17pt,172pt) {Speed (km/s)};
\node[rotate=90, font=\fontsize{10.5}{10}\selectfont, text=tmpgreen] at (17pt,82pt) {Temp (K)};

\node[text=white, font=\fontsize{9.4}{9}\selectfont] at (345pt,16pt) {UTC(hours)};
\node[anchor=west, text=white, font=\fontsize{8}{8}\selectfont, inner sep=0] at (64pt,7.5pt) {start DOY: 241};
\node[anchor=west, text=white, font=\fontsize{8}{8}\selectfont, inner sep=0] at (167pt,7.5pt) {caution:};
\node[anchor=west, text=denorange, font=\fontsize{8}{8}\selectfont, inner sep=0] at (269pt,7.5pt) {density < 1};
\node[anchor=east, text=white, font=\fontsize{9}{9}\selectfont, inner sep=0] at (627pt,7.5pt) {created: 2006-08-30 03:27:17UTC};

\pgfresetboundingbox
\path[use as bounding box] (0,0) rectangle (640pt,512pt);
\end{tikzpicture}
\end{document}
